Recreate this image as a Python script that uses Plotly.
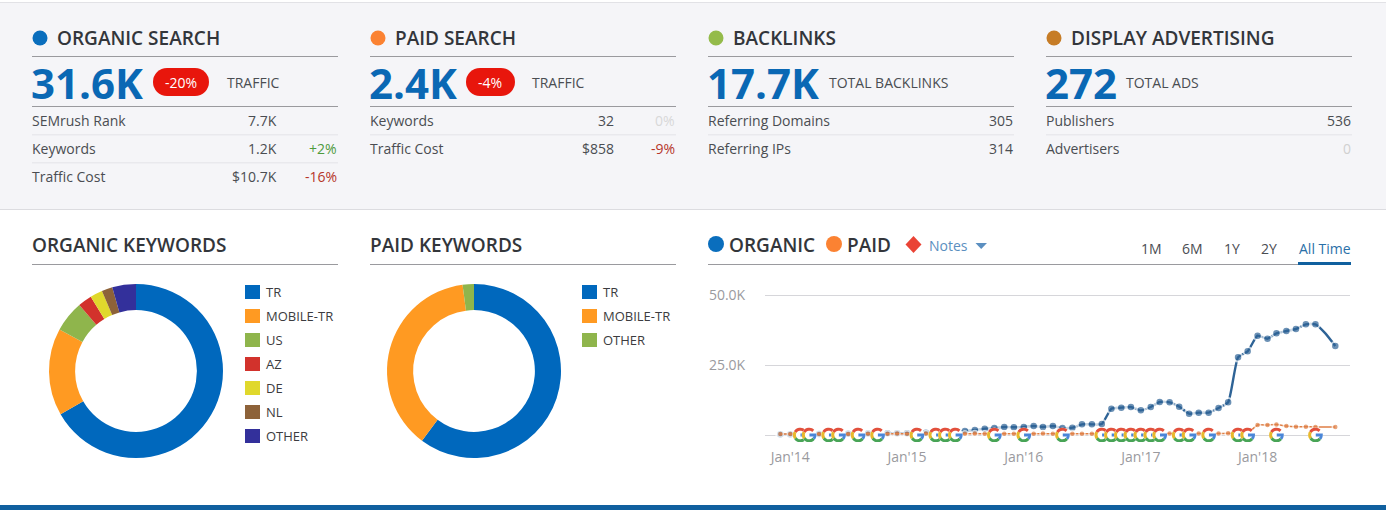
import math
import pandas as pd
import plotly.graph_objects as go

W, H = 1386, 514

# ---- data
organic_labels = ["TR", "MOBILE-TR", "US", "AZ", "DE", "NL", "OTHER"]
organic_shares = [66.7, 16.2, 5.8, 2.6, 2.3, 2.0, 4.4]
paid_labels = ["TR", "MOBILE-TR", "OTHER"]
paid_shares = [60.2, 37.7, 2.1]

organic_traffic = [
    250, 300, 300, 350, 350, 400, 450, 450, 500, 500, 550, 600, 600, 650, 700, 800, 900, 1000, 1150,
    1430, 1790, 2260, 2500, 2860, 2750, 2900, 3210, 2860, 3210, 2500, 2620, 3810, 3810, 3930,
    9400, 9760, 10000, 8810, 10000, 11790, 11670, 10120, 7620, 7980, 7980, 9640, 11670,
    27740, 29880, 35480, 34400, 36300, 37140, 37860, 39520, 39520, 36300, 31790,
]
paid_traffic = [
    350, 400, 400, 450, 400, 450, 450, 400, 450, 450, 500, 450, 500, 450, 450, 500, 450, 450, 500,
    450, 500, 450, 500, 450, 450, 500, 450, 500, 450, 450, 450, 450, 450, 500,
    500, 450, 500, 500, 450, 500, 500, 450, 500, 500, 550, 550, 600,
    600, 650, 3570, 3570, 3750, 3210, 2980, 2980, 2900, 2860, 2860,
]
# month offsets from Jan 2014 where a Google update note sits on the baseline
note_offsets = [1, 2, 4, 5, 7, 9, 13, 15, 16, 17, 21, 24, 28, 32, 33, 34, 35, 36, 37, 38,
                40, 41, 43, 46, 47, 50, 54]
year_ticks = ["2014-01-01", "2015-01-01", "2016-01-01", "2017-01-01", "2018-01-01"]
year_labels = ["Jan'14", "Jan'15", "Jan'16", "Jan'17", "Jan'18"]

months = pd.date_range("2013-12-01", periods=len(organic_traffic), freq="MS")
note_months = [pd.Timestamp("2014-01-01") + pd.DateOffset(months=n) for n in note_offsets]
hidden_month = pd.Timestamp("2018-08-01")

panels = [
    dict(x=32, title="ORGANIC SEARCH", dot="#0a6ebd", big="31.6K", badge="-20%", badge_x=(153, 209),
         caption="TRAFFIC", caption_x=227, value_x=278,
         rows=[("SEMrush Rank", "7.7K", "", ""), ("Keywords", "1.2K", "+2%", "#4e9a3c"),
               ("Traffic Cost", "$10.7K", "-16%", "#b5352a")]),
    dict(x=370, title="PAID SEARCH", dot="#fb8232", big="2.4K", badge="-4%", badge_x=(466, 515),
         caption="TRAFFIC", caption_x=532, value_x=615,
         rows=[("Keywords", "32", "0%", "#d8d8d8"), ("Traffic Cost", "$858", "-9%", "#b5352a")]),
    dict(x=708, title="BACKLINKS", dot="#94bb4a", big="17.7K", badge=None,
         caption="TOTAL BACKLINKS", caption_x=829, value_x=None,
         rows=[("Referring Domains", "305", "", ""), ("Referring IPs", "314", "", "")]),
    dict(x=1046, title="DISPLAY ADVERTISING", dot="#c67c26", big="272", badge=None,
         caption="TOTAL ADS", caption_x=1126, value_x=None,
         rows=[("Publishers", "536", "", ""), ("Advertisers", "0", "", "#d0d0d0")]),
]
slice_colors = ["#0068bd", "#ff9a22", "#8fb54c", "#d2322c", "#e0d82c", "#8d6239", "#33309b"]
paid_slice_colors = ["#0068bd", "#ff9a22", "#8fb54c"]

FONT = "Open Sans"
DARK = "#33363b"
BODY = "#4a4d52"
RULE = "#9a9a9e"
FAINT = "#dedee2"

annotations, shapes = [], []


def px(x):
    return x / W


def py(y):
    return 1 - y / H


def text(x, y, s, size=14, color=BODY, anchor="left", weight=400):
    if anchor == "left":
        x -= 1  # annotations sit about a pixel to the right of x
    annotations.append(dict(x=px(x), y=py(y), xref="paper", yref="paper", text=s, showarrow=False,
                            xanchor=anchor, yanchor="middle", borderpad=0,
                            font=dict(family=FONT, size=size, color=color, weight=weight)))


def rect(x0, y0, x1, y1, color, layer="below"):
    shapes.append(dict(type="rect", xref="paper", yref="paper", x0=px(x0), x1=px(x1), y0=py(y0), y1=py(y1),
                       fillcolor=color, line_width=0, layer=layer))


def dot(cx, cy, r, color):
    shapes.append(dict(type="circle", xref="paper", yref="paper", x0=px(cx - r), x1=px(cx + r),
                       y0=py(cy - r), y1=py(cy + r), fillcolor=color, line_width=0, layer="below"))


def poly(points, color):
    path = "M " + " L ".join(f"{px(a):.5f} {py(b):.5f}" for a, b in points) + " Z"
    shapes.append(dict(type="path", xref="paper", yref="paper", path=path, fillcolor=color, line_width=0))


def google_note(month):
    # small multicolour G, sized in pixels and anchored on the axis
    base = dict(type="path", xref="x", yref="y", xsizemode="pixel", ysizemode="pixel",
                xanchor=month, yanchor=0, layer="above")

    def arc(a0, a1, r=5.8, extra=""):
        steps = 10
        pts = []
        for i in range(steps + 1):
            a = math.radians(a0 + (a1 - a0) * i / steps)
            pts.append(f"{r * math.cos(a):.2f} {r * math.sin(a):.2f}")
        return "M " + " L ".join(pts) + extra

    shapes.append(dict(type="circle", xref="x", yref="y", xsizemode="pixel", ysizemode="pixel",
                       xanchor=month, yanchor=0, x0=-7.4, x1=7.4, y0=-7.4, y1=7.4, fillcolor="white", line_width=0))
    for a0, a1, col, extra in [(45, 150, "#e2503c", ""), (150, 215, "#e8b92c", ""),
                               (215, 320, "#48a456", ""), (320, 360, "#4a86d8", " L 0.3 0")]:
        shapes.append(dict(base, path=arc(a0, a1, extra=extra), line=dict(color=col, width=3),
                           fillcolor="rgba(0,0,0,0)"))


# ---- top band
rect(0, 3, W, 209, "#f5f5f8")
rect(0, 2, W, 3, "#e2e2e6")
rect(0, 209, W, 210, "#dcdce0")
rect(0, 505, W, 510, "#10609f")

for p in panels:
    x = p["x"]
    right = x + 306
    dot(x + 8, 38, 7.5, p["dot"])
    text(x + 25, 38, p["title"], size=19, color=DARK, weight=600)
    rect(x, 56, right, 57, RULE)
    text(x - 1, 82, p["big"], size=42, color="#0a68b4", weight=700)
    if p["badge"]:
        b0, b1 = p["badge_x"]
        rect(b0 + 14, 68, b1 - 14, 96, "#e8160c")
        dot(b0 + 14, 82, 14, "#e8160c")
        dot(b1 - 14, 82, 14, "#e8160c")
        text((b0 + b1) / 2, 82, p["badge"], size=14, color="#ffffff", anchor="center")
    text(p["caption_x"], 83, p["caption"], size=14, color=BODY)
    rect(x, 106, right, 107, RULE)
    for i, (name, value, delta, delta_color) in enumerate(p["rows"]):
        y = 120.5 + i * 28
        text(x, y, name, size=14)
        if p["value_x"]:
            text(p["value_x"], y, value, size=14, anchor="right")
            if delta:
                text(right, y, delta, size=14, color=delta_color, anchor="right")
        else:
            text(right, y, value, size=14, color=delta_color or BODY, anchor="right")
        if i < len(p["rows"]) - 1:
            rect(x, y + 14, right, y + 14.7, FAINT)

# ---- lower headers
text(32, 245, "ORGANIC KEYWORDS", size=19, color=DARK, weight=600)
rect(32, 264, 338, 265, RULE)
text(370, 245, "PAID KEYWORDS", size=19, color=DARK, weight=600)
rect(370, 264, 676, 265, RULE)
rect(708, 264, 1351, 265, RULE)

dot(716, 244, 8, "#0a6ebd")
text(729, 245, "ORGANIC", size=19, color=DARK, weight=600)
dot(834, 244, 8, "#fb8232")
text(847, 245, "PAID", size=19, color=DARK, weight=600)
poly([(913.5, 236), (921.5, 244.5), (913.5, 253), (905.5, 244.5)], "#ea4335")
text(929, 245, "Notes", size=14, color="#5b8fc0")
poly([(975.5, 243), (987, 243), (981.2, 249)], "#5b8fc0")

for cx, label, col in [(1151, "1M", BODY), (1192, "6M", BODY), (1232, "1Y", BODY), (1269, "2Y", BODY),
                       (1324.5, "All Time", "#2a70a8")]:
    text(cx, 248, label, size=14, color=col, anchor="center")
rect(1298, 262, 1351, 265, "#10609f")

# ---- legends next to the donuts
legend_rows = [292, 316, 340, 364, 388, 412, 436]
for lx, labels, colors in [(245, organic_labels, slice_colors), (582, paid_labels, paid_slice_colors)]:
    for row, lab, col in zip(legend_rows, labels, colors):
        rect(lx, row - 7, lx + 15, row + 7, col)
        text(lx + 21, row - 0.5, lab, size=13, color="#3c3c40")

fig = go.Figure()

fig.add_trace(go.Pie(labels=organic_labels, values=organic_shares, hole=0.7, sort=False, direction="clockwise",
                     rotation=0, textinfo="none", marker=dict(colors=slice_colors, line=dict(width=0)),
                     domain=dict(x=[px(49), px(223)], y=[py(458), py(284)])))
fig.add_trace(go.Pie(labels=paid_labels, values=paid_shares, hole=0.7, sort=False, direction="clockwise",
                     rotation=0, textinfo="none", marker=dict(colors=paid_slice_colors, line=dict(width=0)),
                     domain=dict(x=[px(387), px(561)], y=[py(458), py(284)])))

organic_sizes = [0 if m == hidden_month else 8.5 for m in months]
paid_sizes = [0 if m == hidden_month else 6 for m in months]

fig.add_trace(go.Scatter(x=months, y=organic_traffic, mode="lines+markers", name="Organic", cliponaxis=False,
                         line=dict(color="#2e6396", width=2.4, shape="spline", smoothing=0.5),
                         marker=dict(size=organic_sizes, color="#2e6396", line=dict(color="white", width=2))))
fig.add_trace(go.Scatter(x=months, y=paid_traffic, mode="lines+markers", name="Paid", cliponaxis=False,
                         line=dict(color="#df7f45", width=1.5, shape="spline", smoothing=0.5),
                         marker=dict(size=paid_sizes, color="#df7f45", line=dict(color="white", width=1.5))))

for m in note_months:
    google_note(m)

fig.update_layout(
    width=W, height=H, margin=dict(l=0, r=0, t=0, b=0), showlegend=False,
    paper_bgcolor="white", plot_bgcolor="rgba(0,0,0,0)",
    font=dict(family=FONT, color=BODY),
    xaxis=dict(domain=[px(765), px(1350)], range=["2013-10-14", "2018-10-17"], tickmode="array",
               tickvals=year_ticks, ticktext=year_labels, showgrid=False, zeroline=False, showline=False,
               ticks="outside", ticklen=2, tickcolor="rgba(0,0,0,0)", automargin=False,
               tickfont=dict(family=FONT, size=14, color="#9a9a9e")),
    # the axis runs a little past 0 and 50K so the G notes and the top gridline are not clipped
    yaxis=dict(domain=[py(442), py(290)], range=[-2500, 51786], tickmode="array", tickvals=[0, 25000, 50000],
               ticktext=["", "25.0K", "50.0K"], showgrid=True, gridcolor="#d6d6da", gridwidth=1,
               zeroline=False, showline=False, ticks="outside", ticklen=16, tickcolor="rgba(0,0,0,0)",
               automargin=False, tickfont=dict(family=FONT, size=14, color="#9a9a9e")),
    annotations=annotations, shapes=shapes,
)

fig.write_html("out.html", config=dict(displayModeBar=False),
               post_script="document.body.style.margin='0';")
